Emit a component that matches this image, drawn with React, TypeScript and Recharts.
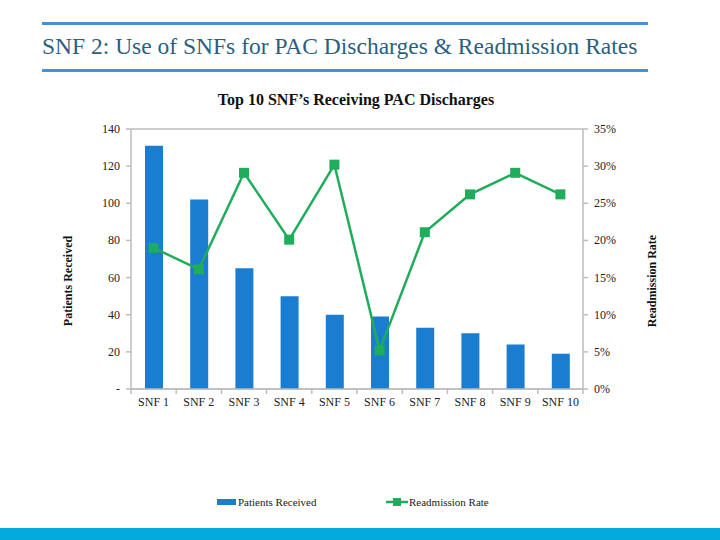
import { ComposedChart, Bar, Line, XAxis, YAxis, CartesianGrid } from 'recharts';

const categories = ['SNF 1', 'SNF 2', 'SNF 3', 'SNF 4', 'SNF 5', 'SNF 6', 'SNF 7', 'SNF 8', 'SNF 9', 'SNF 10'];
const patientsReceived = [131, 102, 65, 50, 40, 39, 33, 30, 24, 19];
const readmissionRate = [0.19, 0.161, 0.291, 0.201, 0.302, 0.052, 0.211, 0.262, 0.291, 0.262];
const leftTicks = [0, 20, 40, 60, 80, 100, 120, 140];
const rightTicks = [0, 0.05, 0.1, 0.15, 0.2, 0.25, 0.3, 0.35];

const serif = '"Liberation Serif", "DejaVu Serif", serif';
const BAR = '#1b7dcf';
const GREEN = '#1fad5c';
const GRID = '#bdbdbd';

const data = categories.map((name, i) => ({
  name,
  patients: patientsReceived[i],
  rate: readmissionRate[i],
}));

function SquareDot(props: any) {
  const { cx, cy } = props;
  if (cx == null || cy == null) return null;
  return <rect x={cx - 5} y={cy - 5} width={10} height={10} fill={GREEN} />;
}

function CategoryTick(props: any) {
  const { x, y, payload, index } = props;
  const half = 452 / categories.length / 2;
  return (
    <g>
      <line x1={x - half} y1={y - 8} x2={x - half} y2={y - 3} stroke={GRID} strokeWidth={1.5} />
      {index === categories.length - 1 && (
        <line x1={x + half} y1={y - 8} x2={x + half} y2={y - 3} stroke={GRID} strokeWidth={1.5} />
      )}
      <text x={x} y={y + 9} textAnchor="middle" fontSize={12} fill="#222" fontFamily={serif}>
        {payload.value}
      </text>
    </g>
  );
}

function LeftTick(props: any) {
  const { x, y, payload } = props;
  const v = payload.value;
  return (
    <text x={x - 4} y={y} textAnchor="end" dominantBaseline="central" fontSize={12} fill="#222" fontFamily={serif}>
      {v === 0 ? '-' : String(v)}
    </text>
  );
}

function RightTick(props: any) {
  const { x, y, payload } = props;
  return (
    <text x={x + 4} y={y} textAnchor="start" dominantBaseline="central" fontSize={12} fill="#222" fontFamily={serif}>
      {`${Math.round(payload.value * 100)}%`}
    </text>
  );
}

// rotated axis title, placed a little below the plot's middle as in the slide
const axisTitle = (text: string, cx: number, cy: number) => () => (
  <text
    x={cx}
    y={cy}
    transform={`rotate(-90 ${cx} ${cy})`}
    textAnchor="middle"
    dominantBaseline="central"
    fontSize={12}
    fontWeight="bold"
    fill="#111"
    fontFamily={serif}
  >
    {text}
  </text>
);

export default function App() {
  return (
    <div style={{ position: 'absolute', left: 0, top: 0, width: 720, height: 540, background: '#fff', fontFamily: serif }}>
      <div style={{ position: 'absolute', left: 42, top: 22, width: 606, height: 3, background: '#4a8fd6' }} />
      <div style={{ position: 'absolute', left: 42, top: 33, fontSize: 23.5, color: '#2b5f80', whiteSpace: 'nowrap' }}>
        SNF 2: Use of SNFs for PAC Discharges &amp; Readmission Rates
      </div>
      <div style={{ position: 'absolute', left: 42, top: 69, width: 606, height: 3, background: '#4a8fd6' }} />
      <div style={{ position: 'absolute', left: 0, width: 712, top: 91, textAlign: 'center', fontSize: 16, fontWeight: 'bold', color: '#111' }}>
        Top 10 SNF’s Receiving PAC Discharges
      </div>

      <div style={{ position: 'absolute', left: 0, top: 0 }}>
        <ComposedChart
          width={720}
          height={540}
          data={data}
          margin={{ top: 129, right: 0, bottom: 121, left: 0 }}
        >
          <CartesianGrid horizontal vertical={false} stroke={GRID} strokeWidth={1.5} />
          <XAxis
            dataKey="name"
            height={30}
            stroke={GRID}
            strokeWidth={1.5}
            tickLine={false}
            tick={<CategoryTick />}
            interval={0}
          />
          <YAxis
            yAxisId="left"
            width={131}
            domain={[0, 140]}
            ticks={leftTicks}
            stroke={GRID}
            strokeWidth={1.5}
            tickSize={5}
            tick={<LeftTick />}
            label={{ content: axisTitle('Patients Received', 68, 281) }}
          />
          <YAxis
            yAxisId="right"
            orientation="right"
            width={137}
            domain={[0, 0.35]}
            ticks={rightTicks}
            stroke={GRID}
            strokeWidth={1.5}
            tickSize={5}
            tick={<RightTick />}
            label={{ content: axisTitle('Readmission Rate', 652, 281) }}
          />
          <Bar yAxisId="left" dataKey="patients" fill={BAR} barSize={18} isAnimationActive={false} />
          <Line
            yAxisId="right"
            dataKey="rate"
            stroke={GREEN}
            strokeWidth={2.5}
            dot={<SquareDot />}
            activeDot={false}
            isAnimationActive={false}
          />
        </ComposedChart>
      </div>

      <div style={{ position: 'absolute', top: 496, left: 217, display: 'flex', alignItems: 'center', fontSize: 11, color: '#222' }}>
        <span style={{ width: 19, height: 6, background: BAR, display: 'inline-block', marginRight: 2 }} />
        <span>Patients Received</span>
      </div>
      <div style={{ position: 'absolute', top: 496, left: 386, display: 'flex', alignItems: 'center', fontSize: 11, color: '#222' }}>
        <svg width={22} height={10} style={{ marginRight: 1 }}>
          <line x1={0} y1={5} x2={22} y2={5} stroke={GREEN} strokeWidth={2.5} />
          <rect x={7} y={1} width={8} height={8} fill={GREEN} />
        </svg>
        <span>Readmission Rate</span>
      </div>

      <div style={{ position: 'absolute', left: 0, top: 528, width: 720, height: 12, background: '#04aadd' }} />
    </div>
  );
}
